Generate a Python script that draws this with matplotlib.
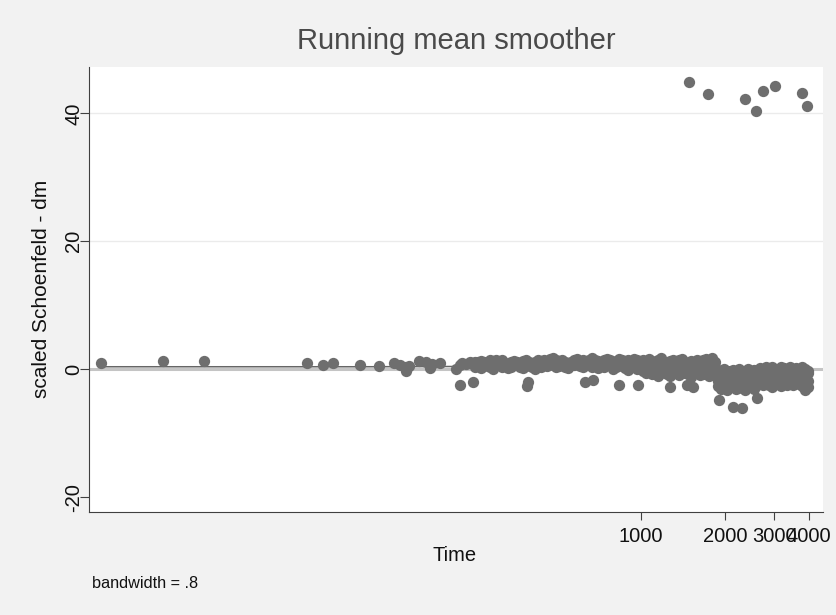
import numpy as np
import matplotlib
matplotlib.use("Agg")
import matplotlib.pyplot as plt
from matplotlib.ticker import FixedLocator, NullLocator, FixedFormatter

plt.rcParams['font.family'] = ['Liberation Sans', 'DejaVu Sans']

# ---------------- data ----------------
# sparse early failures
t_early = [11.6, 19.4, 27.2, 63.5, 72.4, 78.7, 98.4, 115, 130, 137, 143, 144, 147,
           160, 169, 175, 178, 190, 217, 224, 228, 236, 244, 250, 224]
r_early = [1.0, 1.3, 1.3, 1.0, 0.7, 1.0, 0.7, 0.5, 1.0, 0.6, 0.3, -0.2, 0.5,
           1.3, 1.1, 0.2, 0.8, 1.0, 0.0, 0.6, 1.0, 0.9, 1.1, -2.0, -2.4]

# dense band, times 250-1000
t_mid = [254, 261, 267, 274, 281, 288, 295, 302, 310, 318, 326, 334, 342, 351,
         359, 368, 378, 387, 397, 407, 417, 428, 438, 449, 460, 472, 484, 496,
         508, 521, 534, 548, 561, 575, 590, 604, 620, 635, 651, 667, 684, 701,
         719, 737, 755, 774, 794, 813, 834, 855, 876, 898, 921, 944, 968, 992]
r_mid_hi = [1.1, 1.2, 1.3, 1.2, 1.0, 1.4, 1.3, 1.5, 1.2, 1.4, 1.0, 0.8, 1.1, 1.3,
            1.2, 1.0, 1.3, 1.4, 1.1, 0.9, 1.2, 1.4, 1.3, 1.5, 1.2, 1.6, 1.8, 1.5,
            1.3, 1.4, 1.1, 1.0, 1.2, 1.5, 1.6, 1.3, 1.4, 1.2, 1.5, 1.7, 1.4, 1.3,
            1.1, 1.4, 1.6, 1.5, 1.2, 1.3, 1.6, 1.4, 1.2, 1.5, 1.3, 1.6, 1.4, 1.2]
r_mid_lo = [0.4, 0.6, 0.2, 0.5, 0.7, 0.3, 0.1, 0.6, 0.8, 0.4, 0.5, 0.2, 0.3, 0.7,
            0.6, 0.4, 0.2, 0.5, 0.8, 0.3, 0.1, 0.6, 0.4, 0.7, 0.5, 0.9, 0.6, 0.3,
            0.5, 0.8, 0.4, 0.2, 0.6, 0.7, 0.9, 0.5, 0.3, 0.6, 0.8, 0.4, 0.7, 0.2,
            0.5, 0.3, 0.8, 0.6, 0.1, 0.4, 0.7, 0.5, 0.2, -0.1, 0.3, 0.6, 0.0, 0.4]
t_mid_out = [394, 391, 630, 672, 834, 976]
r_mid_out = [-2.0, -2.6, -2.0, -1.7, -2.4, -2.4]

# times 1000-1850
t_late = [1017, 1042, 1068, 1095, 1123, 1151, 1180, 1209, 1240, 1270, 1302, 1335,
          1369, 1403, 1438, 1474, 1511, 1549, 1588, 1627, 1668, 1710, 1753, 1797, 1842]
r_late_hi = [1.5, 1.2, 1.6, 1.3, 1.1, 1.4, 1.7, 1.2, 1.0, 1.3, 1.5, 1.1, 1.4,
             1.6, 1.2, 1.0, 1.3, 1.1, 1.5, 1.2, 1.4, 1.6, 1.3, 1.7, 1.1]
r_late_md = [0.6, 0.3, 0.8, 0.5, 0.2, 0.7, 0.4, 0.1, 0.6, 0.3, 0.5, 0.8, 0.2,
             0.4, 0.7, 0.3, 0.0, 0.5, 0.6, 0.2, 0.4, 0.7, 0.1, 0.5, 0.3]
r_late_lo = [-0.3, -0.6, -0.1, -0.8, -0.4, -1.0, -0.5, -0.2, -0.7, -1.1, -0.4, -0.6, -0.9,
             -0.3, -0.5, -0.8, -1.2, -0.6, -0.4, -0.9, -0.7, -0.3, -1.0, -0.5, -0.8]
t_late_out = [1270, 1467, 1536]
r_late_out = [-2.7, -2.4, -2.7]

# times 1850-4000
t_end = [1888, 1935, 1984, 2033, 2084, 2137, 2190, 2245, 2301, 2359, 2418, 2479, 2541, 2605,
         2671, 2737, 2806, 2876, 2948, 3022, 3098, 3176, 3255, 3337, 3420, 3506, 3594,
         3684, 3777, 3871, 3968]
r_end_1 = [-0.2, -0.4, 0.0, -0.3, -0.5, -0.1, -0.3, 0.1, -0.4, -0.2, 0.0, -0.3, -0.1, -0.4,
           0.2, -0.1, 0.3, 0.0, 0.4, 0.1, -0.2, 0.3, 0.2, -0.1, 0.4, 0.0, 0.2, -0.2, 0.3, 0.1, -0.3]
r_end_2 = [-1.0, -0.8, -1.3, -0.7, -1.1, -0.9, -1.4, -0.8, -1.2, -0.6, -1.0, -1.3, -0.9, -1.1,
           -0.6, -0.9, -0.5, -0.8, -0.7, -1.0, -0.6, -0.4, -0.9, -0.7, -0.5, -0.8, -1.0, -0.6, -0.7, -0.9, -0.5]
r_end_3 = [-1.8, -2.1, -1.6, -2.3, -1.9, -1.7, -2.2, -2.0, -1.6, -2.4, -1.8, -2.1, -1.9, -2.2,
           -1.4, -1.7, -1.2, -1.6, -1.5, -1.8, -1.3, -1.6, -1.4, -1.9, -1.2, -1.5, -1.7, -1.3, -1.6, -1.4, -1.8]
r_end_4 = [-2.6, -3.0, -2.4, -3.2, -2.8, -2.5, -3.1, -2.7, -2.9, -3.3, -2.6, -2.8, -3.0, -2.5,
           -2.2, -2.5, -2.0, -2.4, -2.7, -2.1, -2.3, -2.6, -2.0, -2.4, -2.2, -2.5, -2.1, -2.3, -2.6, -2.4, -2.8]
t_end_out = [1903, 2137, 2301, 2605, 3871]
r_end_out = [-4.8, -5.9, -6.0, -4.5, -3.2]

# large positive residuals
t_big = [1489, 1734, 2360, 2578, 2743, 3027, 3777, 3935]
r_big = [44.9, 43.0, 42.3, 40.4, 43.5, 44.3, 43.2, 41.1]

# running mean smoother (bandwidth .8)
t_smooth = [11.6, 100, 250, 500, 1000, 1500, 2000, 3000, 3968]
r_smooth = [0.4, 0.4, 0.45, 0.5, 0.55, 0.5, 0.4, 0.4, 0.4]

x_ticks = [1000, 2000, 3000, 4000]
x_tick_labels = ["1000", "2000", "3000", "4000"]
y_ticks = [-20, 0, 20, 40]
y_tick_labels = ["-20", "0", "20", "40"]

# ---------------- assemble ----------------
times = np.concatenate([t_early, t_mid, t_mid, t_mid_out, t_late, t_late, t_late, t_late_out,
                        t_end, t_end, t_end, t_end, t_end_out, t_big])
resid = np.concatenate([r_early, r_mid_hi, r_mid_lo, r_mid_out, r_late_hi, r_late_md, r_late_lo,
                        r_late_out, r_end_1, r_end_2, r_end_3, r_end_4, r_end_out, r_big])

# ---------------- figure ----------------
fig = plt.figure(figsize=(8.37, 6.15), dpi=100, facecolor='#f2f2f2')
ax = fig.add_axes([0.106, 0.168, 0.877, 0.7236])
ax.set_facecolor('white')

ax.set_xscale('log')
ax.set_xlim(10.48, 4480)
ax.set_ylim(-22.25, 47.3)

for g in [20, 40]:
    ax.axhline(g, color='#ebebeb', lw=1.0, zorder=0)
ax.axhline(0, color='#c4c4c4', lw=2.2, zorder=1)

ax.scatter(times, resid, s=66, color='#6e6e6e', linewidths=0, zorder=3)
ax.plot(t_smooth, r_smooth, color='#666666', lw=1.1, zorder=2)

ax.xaxis.set_major_locator(FixedLocator(x_ticks))
ax.xaxis.set_major_formatter(FixedFormatter(x_tick_labels))
ax.xaxis.set_minor_locator(NullLocator())
ax.set_yticks(y_ticks)
ax.set_yticklabels(y_tick_labels, rotation=90, va='center')
ax.yaxis.set_minor_locator(NullLocator())

ax.tick_params(axis='x', length=6, width=0.8, color='#404040', labelsize=14.5, pad=5,
               labelcolor='#111111')
ax.tick_params(axis='y', length=6.5, width=0.8, color='#404040', labelsize=14.5, pad=-2.5,
               labelcolor='#111111')

for s in ['top', 'right']:
    ax.spines[s].set_visible(False)
for s in ['left', 'bottom']:
    ax.spines[s].set_color('#404040')
    ax.spines[s].set_linewidth(0.8)

fig.text(0.5448, 0.933, "Running mean smoother", ha='center', va='center',
         fontsize=21, color='#4a4a4a')
fig.text(0.5436, 0.096, "Time", ha='center', va='center', fontsize=14.5, color='#111111')
fig.text(0.049, 0.530, "scaled Schoenfeld - dm", ha='center', va='center', rotation=90,
         fontsize=15, color='#111111')
fig.text(0.110, 0.052, "bandwidth = .8", ha='left', va='center', fontsize=11.7, color='#111111')

fig.savefig("out.png", dpi=100, facecolor=fig.get_facecolor())
